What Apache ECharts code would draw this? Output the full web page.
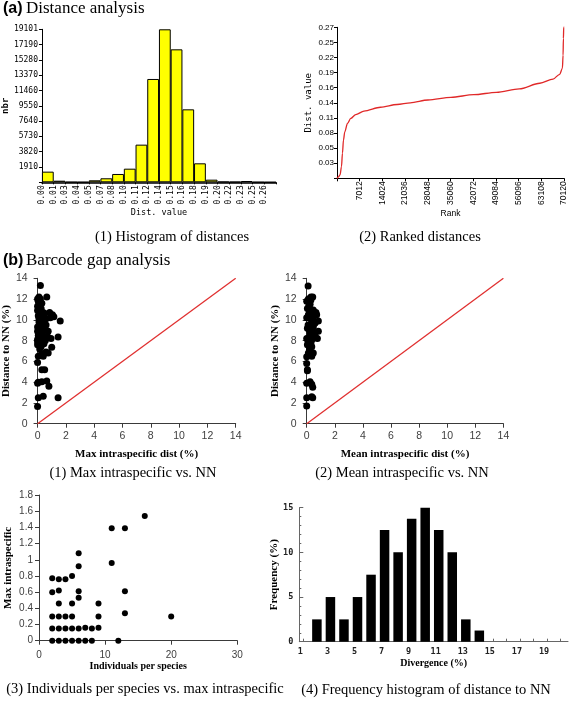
<!DOCTYPE html>
<html><head><meta charset="utf-8">
<script src="https://cdn.jsdelivr.net/npm/echarts@6/dist/echarts.min.js"></script>
<style>html,body{margin:0;padding:0;background:#fff}#c{width:575px;height:704px}</style>
</head><body><div id="c"></div>
<script>
// ---------- (a)(1) Histogram of distances ----------
const histBinLabels = ['0.00','0.01','0.03','0.04','0.05','0.07','0.08','0.10','0.11','0.12','0.14','0.15','0.16','0.18','0.19','0.20','0.22','0.23','0.25','0.26'];
const histCounts = [1330,200,40,30,250,500,1040,1700,4700,12900,19101,16600,9110,2370,330,80,60,160,30,20];
const histYLabels = ['1910','3820','5730','7640','9550','11460','13370','15280','17190','19101'];

// ---------- (a)(2) Ranked distances ----------
const rankedRank = [0,340,950,1380,1690,1990,2400,3230,4240,5780,8330,13460,18580,22670,28100,35210,42270,49240,56310,62650,66740,68800,69630,69830,69940,70030,70120];
const rankedDist = [0,0.002,0.006,0.021,0.045,0.068,0.083,0.098,0.107,0.114,0.120,0.127,0.132,0.135,0.140,0.1448,0.1495,0.1538,0.160,0.170,0.1775,0.186,0.197,0.220,0.250,0.270,0.272];
const rankYLabels = ['0.03','0.05','0.08','0.11','0.14','0.16','0.19','0.22','0.25','0.27'];

// ---------- (b)(1) Max intraspecific vs NN ----------
const maxVsNN = [[0.2,13.3],[0.1,12.2],[0.65,12.2],[0.05,11.8],[0.3,11.6],[0.1,11.5],[0.0,11.3],[0.25,11.1],[0.15,10.9],[0.4,10.7],[0.85,10.7],[0.05,10.4],[0.3,10.3],[1.05,10.5],[1.15,10.3],[0.9,10.2],[1.6,9.9],[0.1,9.8],[0.35,9.7],[0.6,9.5],[0.0,9.3],[0.2,9.1],[0.45,9.0],[0.75,8.9],[0.3,8.7],[0.05,8.5],[0.5,8.4],[0.2,8.3],[1.45,8.35],[0.95,8.2],[0.7,8.4],[0.0,8.1],[0.3,7.9],[0.55,8.0],[0.1,7.8],[0.45,7.7],[0.0,7.6],[0.25,7.4],[1.0,7.35],[0.15,7.2],[0.6,6.9],[0.35,6.7],[0.75,6.8],[0.05,6.5],[0.4,6.5],[0.2,6.6],[0.0,5.9],[0.3,5.2],[0.5,5.2],[0.05,4.0],[0.3,4.05],[0.65,4.1],[0.8,3.6],[0.0,3.9],[0.05,2.5],[0.4,2.65],[1.45,2.5],[0.0,1.65],[0.0,12.0],[0.15,11.9],[0.0,10.9],[0.1,10.1],[0.25,9.5],[0.0,8.9],[0.1,8.0],[0.0,7.9],[0.25,8.6],[0.6,10.1],[0.5,10.6],[0.2,12.0]];

// ---------- (b)(2) Mean intraspecific vs NN ----------
const meanVsNN = [[0.1,13.26],[0.43,12.2],[0.12,12.0],[0.0,11.8],[0.24,11.5],[0.05,11.1],[0.47,10.95],[0.66,10.7],[0.12,10.5],[0.43,10.4],[0.71,10.5],[0.0,10.2],[0.83,9.9],[0.36,9.8],[0.6,9.7],[0.1,9.5],[0.05,9.2],[0.47,9.3],[0.83,8.9],[0.24,8.7],[0.24,8.5],[0.6,8.45],[0.0,8.2],[0.36,8.05],[0.76,8.2],[0.1,7.9],[0.05,7.6],[0.36,7.4],[0.2,7.2],[0.12,6.8],[0.47,6.8],[0.0,6.45],[0.36,6.5],[0.0,5.8],[0.05,5.2],[0.0,3.9],[0.36,3.8],[0.43,3.5],[0.24,4.05],[0.0,2.5],[0.36,2.6],[0.43,2.5],[0.0,1.7],[0.3,11.9],[0.15,11.3],[0.3,10.1],[0.2,9.0],[0.5,8.7],[0.15,8.3],[0.3,7.7],[0.5,9.6],[0.2,10.8],[0.05,5.1],[0.15,6.6],[0.45,10.0],[0.3,12.2]];
const diagonal = [0,14];

// ---------- (b)(3) Individuals per species vs max intraspecific ----------
const indivVsMax = [[16,1.54],[11,1.39],[13,1.39],[6,1.08],[6,0.92],[11,0.96],[2,0.77],[3,0.76],[4,0.76],[5,0.80],[2,0.60],[3,0.62],[6,0.61],[13,0.61],[6,0.53],[3,0.46],[5,0.46],[9,0.46],[2,0.30],[3,0.30],[4,0.30],[5,0.30],[9,0.30],[13,0.34],[20,0.30],[2,0.15],[3,0.15],[4,0.15],[5,0.15],[6,0.15],[7,0.16],[8,0.15],[9,0.16],[2,0],[3,0],[4,0],[5,0],[6,0],[7,0],[8,0],[12,0]];

// ---------- (b)(4) Frequency histogram of distance to NN ----------
const divBins = [2,3,4,5,6,7,8,9,10,11,12,13,14];
const divFreq = [2.5,5,2.5,5,7.5,12.5,10,13.75,15,12.5,10,2.5,1.25];
const divTickValues = [1,2,3,4,5,6,7,8,9,10,11,12,13,14,15,16,17,18,19,20];
const divLabelValues = [1,3,5,7,9,11,13,15,17,19];

const serif = '"Liberation Serif","Times New Roman",serif';
const sans = '"Liberation Sans",Arial,sans-serif';
const mono = '"DejaVu Sans Mono",monospace';

function txt(x, y, text, font, align) {
  return {type:'text', x:x, y:y, silent:true,
    style:{text:text, font:font, fill:'#000', align:align||'left', verticalAlign:'middle',
           textAlign:align||'left', textVerticalAlign:'middle'}};
}

const bAxisLine = {show:true, lineStyle:{color:'#3a3a3a', width:1}};
const bTick = {show:true, length:4, lineStyle:{color:'#3a3a3a'}};
const bName = {fontFamily:serif, fontWeight:'bold', fontSize:11, color:'#000'};

function bAxis(grid, min, max, interval, name, gap, margin, fs, extra) {
  return Object.assign({gridIndex:grid, type:'value', min:min, max:max, interval:interval,
    axisLine:bAxisLine, axisTick:bTick, splitLine:{show:false},
    axisLabel:{margin:margin, fontFamily:sans, fontSize:fs, color:'#404040'},
    name:name, nameLocation:'middle', nameGap:gap, nameTextStyle:bName}, extra||{});
}

const chart = echarts.init(document.getElementById('c'));
const option = {
  animation:false,
  backgroundColor:'#fff',
  grid:[
    {left:40, top:29.3, width:236, height:153},
    {left:337, top:27.3, width:227, height:151},
    {left:35.7, top:278.3, width:200, height:145.4},
    {left:306.7, top:278.3, width:196.7, height:145.4},
    {left:39, top:495, width:198.3, height:145.7},
    {left:299.3, top:507.7, width:268.7, height:134}
  ],
  xAxis:[
    {gridIndex:0, type:'value', min:0, max:20, interval:1,
     axisLine:{show:true, lineStyle:{color:'#000', width:1.5}},
     axisTick:{show:true, length:2, lineStyle:{color:'#000'}}, splitLine:{show:false},
     axisLabel:{rotate:90, margin:3, fontFamily:mono, fontSize:8, color:'#000',
       formatter:function(v){ return histBinLabels[Math.round(v)] || ''; }},
     name:'Dist. value', nameLocation:'middle', nameGap:25,
     nameTextStyle:{fontFamily:mono, fontSize:8.5, color:'#000'}},
    {gridIndex:1, type:'value', min:0, max:70120, interval:7012,
     axisLine:{show:true, lineStyle:{color:'#000'}},
     axisTick:{show:true, length:3, lineStyle:{color:'#000'}}, splitLine:{show:false},
     axisLabel:{rotate:90, margin:3, fontFamily:sans, fontSize:8.5, color:'#000',
       formatter:function(v){ return v === 0 ? '' : String(v); }},
     name:'Rank', nameLocation:'middle', nameGap:30,
     nameTextStyle:{fontFamily:sans, fontSize:8.5, color:'#000'}},
    bAxis(2, 0, 14, 2, 'Max intraspecific dist (%)', 25, 7, 10.5),
    bAxis(3, 0, 14, 2, 'Mean intraspecific dist (%)', 25, 7, 10.5),
    bAxis(4, 0, 30, 10, 'Individuals per species', 18, 10, 10,
      {nameTextStyle:{fontFamily:serif, fontWeight:'bold', fontSize:10, color:'#000'}}),
    {gridIndex:5, type:'value', min:0.7, max:20.55,
     axisLine:{show:true, lineStyle:{color:'#666'}},
     axisTick:{show:true, inside:true, length:3, customValues:divTickValues, lineStyle:{color:'#666'}},
     splitLine:{show:false},
     axisLabel:{customValues:divLabelValues, margin:6, padding:[0,6,0,0], fontFamily:mono, fontWeight:'bold', fontSize:8.5, color:'#222'},
     name:'Divergence (%)', nameLocation:'middle', nameGap:17,
     nameTextStyle:{fontFamily:serif, fontWeight:'bold', fontSize:10, color:'#000'}}
  ],
  yAxis:[
    {gridIndex:0, type:'value', min:0, max:19101, interval:1910.1,
     axisLine:{show:true, lineStyle:{color:'#000'}},
     axisTick:{show:true, length:3, lineStyle:{color:'#000'}}, splitLine:{show:false},
     axisLabel:{margin:4, fontFamily:mono, fontSize:8, color:'#000',
       formatter:function(v){ const k = Math.round(v/1910.1); return k ? histYLabels[k-1] : ''; }},
     name:'nbr', nameLocation:'middle', nameGap:28,
     nameTextStyle:{fontFamily:mono, fontSize:9, fontWeight:'bold', color:'#000'}},
    {gridIndex:1, type:'value', min:0, max:0.27, interval:0.027,
     axisLine:{show:true, lineStyle:{color:'#000'}},
     axisTick:{show:true, length:3, lineStyle:{color:'#000'}}, splitLine:{show:false},
     axisLabel:{margin:3, fontFamily:sans, fontSize:8, color:'#000',
       formatter:function(v){ const k = Math.round(v/0.027); return k ? rankYLabels[k-1] : ''; }},
     name:'Dist. value', nameLocation:'middle', nameGap:23.5,
     nameTextStyle:{fontFamily:mono, fontSize:9, color:'#000'}},
    bAxis(2, 0, 14, 2, 'Distance to NN (%)', 23, 10, 10.5),
    bAxis(3, 0, 14, 2, 'Distance to NN (%)', 24, 10, 10.5),
    bAxis(4, 0, 1.8, 0.2, 'Max intraspecific', 25.5, 6, 10,
      {axisLabel:{margin:6, fontFamily:sans, fontSize:10, color:'#404040',
        formatter:function(v){ return String(Math.round(v*10)/10); }}}),
    {gridIndex:5, type:'value', min:0, max:15, interval:5,
     axisLine:{show:true, lineStyle:{color:'#666'}},
     axisTick:{show:true, inside:true, length:4, lineStyle:{color:'#666'}},
     minorTick:{show:true, splitNumber:5, length:2, lineStyle:{color:'#666'}},
     splitLine:{show:false},
     axisLabel:{margin:6, fontFamily:mono, fontWeight:'bold', fontSize:8.5, color:'#222'},
     name:'Frequency (%)', nameLocation:'middle', nameGap:14,
     nameTextStyle:{fontFamily:serif, fontWeight:'bold', fontSize:11, color:'#000'}}
  ],
  series:[
    {type:'bar', xAxisIndex:0, yAxisIndex:0, barWidth:11.8,
     data:histCounts.map(function(v,i){ return [i+0.5, v]; }),
     itemStyle:{color:'#ffff00', borderColor:'#000', borderWidth:1}},
    {type:'line', xAxisIndex:1, yAxisIndex:1, showSymbol:false, smooth:0.3, smoothMonotone:'x',
     data:rankedRank.map(function(r,i){ return [r, rankedDist[i]]; }),
     lineStyle:{color:'#e02828', width:1.3}},
    {type:'scatter', xAxisIndex:2, yAxisIndex:2, symbolSize:7, data:maxVsNN, itemStyle:{color:'#000', opacity:1}},
    {type:'line', xAxisIndex:2, yAxisIndex:2, showSymbol:false, data:diagonal.map(function(v){ return [v,v]; }),
     lineStyle:{color:'#e03030', width:1.3}},
    {type:'scatter', xAxisIndex:3, yAxisIndex:3, symbolSize:7, data:meanVsNN, itemStyle:{color:'#000', opacity:1}},
    {type:'line', xAxisIndex:3, yAxisIndex:3, showSymbol:false, data:diagonal.map(function(v){ return [v,v]; }),
     lineStyle:{color:'#e03030', width:1.3}},
    {type:'scatter', xAxisIndex:4, yAxisIndex:4, symbolSize:6, data:indivVsMax, itemStyle:{color:'#000', opacity:1}},
    {type:'bar', xAxisIndex:5, yAxisIndex:5, barWidth:9.5,
     data:divBins.map(function(b,i){ return [b, divFreq[i]]; }),
     itemStyle:{color:'#000'}}
  ],
  graphic:[
    txt(3, 9, '(a)', 'bold 16px ' + sans),
    txt(26, 9, 'Distance analysis', '17px ' + serif),
    txt(3, 261, '(b)', 'bold 16px ' + sans),
    txt(26, 261, 'Barcode gap analysis', '17px ' + serif),
    txt(172, 237, '(1) Histogram of distances', '14.5px ' + serif, 'center'),
    txt(420, 237, '(2) Ranked distances', '14.5px ' + serif, 'center'),
    txt(133, 473, '(1) Max intraspecific vs. NN', '14.5px ' + serif, 'center'),
    txt(402, 473, '(2) Mean intraspecific vs. NN', '14.5px ' + serif, 'center'),
    txt(145, 689, '(3) Individuals per species vs. max intraspecific', '14.5px ' + serif, 'center'),
    txt(426, 690, '(4) Frequency histogram of distance to NN', '14.5px ' + serif, 'center')
  ]
};
chart.setOption(option);
</script>
</body></html>
